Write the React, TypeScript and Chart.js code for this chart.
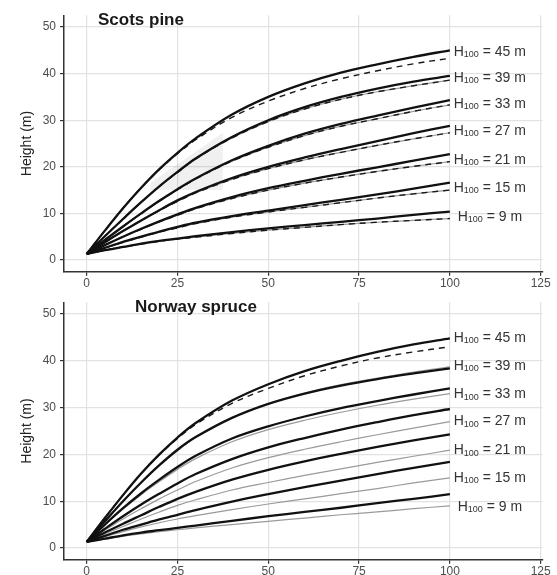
import React, { useEffect, useRef } from "react";
import { Chart, registerables } from "chart.js";

Chart.register(...registerables);

const FONT = '"Liberation Sans", Arial, Helvetica, sans-serif';

// ---- data ----
const ages = [0, 5, 10, 15, 20, 25, 30, 40, 50, 60, 70, 80, 90, 100];
const siteIndices = [45, 39, 33, 27, 21, 15, 9];
const xTicks = [0, 25, 50, 75, 100, 125];
const yTicks = [0, 10, 20, 30, 40, 50];

// Scots pine, black curves (H100 = 45 ... 9)
const pineBlack: number[][] = [
  [1.3, 6.3, 11.1, 15.5, 19.5, 23.0, 26.1, 31.2, 35.0, 37.9, 40.2, 42.0, 43.6, 45.0],
  [1.3, 5.1, 8.8, 12.4, 15.8, 18.9, 21.8, 26.4, 30.0, 32.8, 35.0, 36.8, 38.3, 39.5],
  [1.3, 4.3, 7.2, 10.0, 12.7, 15.2, 17.5, 21.4, 24.5, 27.1, 29.2, 31.0, 32.7, 34.3],
  [1.3, 3.8, 6.2, 8.5, 10.7, 12.8, 14.6, 17.6, 20.0, 22.0, 23.8, 25.5, 27.2, 28.8],
  [1.3, 3.2, 5.0, 6.7, 8.3, 9.8, 11.2, 13.5, 15.4, 17.0, 18.5, 19.9, 21.3, 22.7],
  [1.3, 2.6, 3.9, 5.0, 6.1, 7.1, 8.0, 9.4, 10.6, 11.8, 12.9, 14.1, 15.3, 16.6],
  [1.3, 2.1, 2.8, 3.5, 4.1, 4.6, 5.1, 6.0, 6.8, 7.5, 8.2, 8.9, 9.7, 10.4],
];
// Scots pine, grey curves (H100 = 39 ... 9)
const pineGrey: number[][] = [
  [1.3, 5.1, 8.8, 12.4, 15.8, 18.8, 21.7, 26.2, 29.7, 32.4, 34.5, 36.1, 37.4, 38.6],
  [1.3, 4.3, 7.2, 10.0, 12.6, 15.1, 17.4, 21.2, 24.2, 26.7, 28.7, 30.3, 31.9, 33.3],
  [1.3, 3.8, 6.2, 8.5, 10.6, 12.6, 14.4, 17.3, 19.6, 21.5, 23.1, 24.6, 26.0, 27.3],
  [1.3, 3.2, 5.0, 6.6, 8.2, 9.6, 11.0, 13.2, 15.0, 16.5, 17.8, 19.0, 20.1, 21.1],
  [1.3, 2.6, 3.8, 4.9, 6.0, 6.9, 7.8, 9.2, 10.3, 11.3, 12.3, 13.3, 14.2, 15.0],
  [1.3, 2.1, 2.8, 3.4, 4.0, 4.5, 4.9, 5.7, 6.4, 7.0, 7.6, 8.1, 8.5, 8.9],
];
const pineDashed45 = [1.3, 6.3, 11.1, 15.5, 19.4, 22.8, 25.8, 30.6, 34.1, 36.8, 38.9, 40.6, 42.1, 43.3];

// Norway spruce, black curves (H100 = 45 ... 9)
const spruceBlack: number[][] = [
  [1.3, 6.4, 11.3, 15.9, 20.0, 23.6, 26.7, 31.5, 35.0, 37.8, 40.0, 41.9, 43.5, 44.8],
  [1.3, 5.7, 10.0, 14.0, 17.7, 21.0, 23.7, 27.8, 30.8, 33.0, 34.7, 36.1, 37.3, 38.4],
  [1.3, 5.0, 8.5, 11.7, 14.6, 17.3, 19.7, 23.4, 26.0, 28.1, 29.9, 31.4, 32.8, 34.1],
  [1.3, 4.1, 6.8, 9.3, 11.6, 13.8, 15.8, 19.0, 21.5, 23.5, 25.3, 26.9, 28.4, 29.7],
  [1.3, 3.3, 5.2, 7.0, 8.8, 10.5, 12.0, 14.6, 16.7, 18.5, 20.1, 21.6, 23.0, 24.3],
  [1.3, 2.6, 3.9, 5.0, 6.1, 7.1, 8.1, 9.9, 11.5, 13.0, 14.4, 15.8, 17.1, 18.4],
  [1.3, 2.0, 2.7, 3.3, 3.8, 4.3, 4.8, 5.8, 6.8, 7.7, 8.6, 9.6, 10.5, 11.5],
];
// Norway spruce, grey curves (H100 = 39 ... 9)
const spruceGrey: number[][] = [
  [1.3, 5.7, 10.0, 14.0, 17.6, 20.8, 23.6, 27.8, 30.8, 33.1, 34.9, 36.3, 37.6, 38.7],
  [1.3, 4.9, 8.3, 11.4, 14.2, 16.8, 19.1, 22.7, 25.3, 27.3, 29.0, 30.5, 31.8, 33.0],
  [1.3, 3.8, 6.2, 8.4, 10.5, 12.4, 14.2, 17.1, 19.3, 21.1, 22.7, 24.2, 25.6, 27.0],
  [1.3, 3.0, 4.6, 6.2, 7.7, 9.1, 10.3, 12.4, 14.0, 15.5, 16.9, 18.3, 19.6, 20.9],
  [1.3, 2.4, 3.5, 4.5, 5.4, 6.2, 6.9, 8.2, 9.4, 10.5, 11.6, 12.7, 13.9, 15.0],
  [1.3, 1.9, 2.5, 3.0, 3.5, 3.9, 4.3, 5.0, 5.7, 6.4, 7.1, 7.7, 8.4, 9.0],
];
const spruceDashed45 = [1.3, 6.4, 11.3, 15.9, 19.9, 23.4, 26.4, 30.9, 34.1, 36.8, 38.9, 40.6, 41.9, 43.0];

// label positions (height at which each H100 label sits)
const labelAge = 111;
const pineLabelY = [44.7, 39.1, 33.5, 27.7, 21.5, 15.5, 9.3];
const spruceLabelY = [44.9, 38.9, 32.9, 27.1, 20.9, 15.0, 8.8];

// light grey shaded region in the Scots pine panel
const shadeAges = [17.5, 37.5];
const shadeUpper = [16.5, 27.3];
const shadeLower = [15.0, 15.0];

// ---- helpers ----
const pts = (xs: number[], ys: number[]) => xs.map((x, i) => ({ x, y: ys[i] }));

interface PanelSpec {
  black: number[][];
  grey: number[][];
  dashed: number[][];
  labelY: number[];
  title: string;
  titleDx: number;
  shade: boolean;
  height: number;
  padTop: number;
  axisH: number;
}

function buildChart(canvas: HTMLCanvasElement, spec: PanelSpec) {
  const datasets: any[] = [];
  const common = {
    showLine: true,
    pointRadius: 0,
    pointHoverRadius: 0,
    cubicInterpolationMode: "default",
    tension: 0.35,
    fill: false,
  };
  if (spec.shade) {
    datasets.push({
      ...common,
      data: pts(shadeAges, shadeUpper),
      borderWidth: 0,
      borderColor: "rgba(0,0,0,0)",
      tension: 0,
      order: 100,
    });
    datasets.push({
      ...common,
      data: pts(shadeAges, shadeLower),
      borderWidth: 0,
      borderColor: "rgba(0,0,0,0)",
      tension: 0,
      fill: "-1",
      backgroundColor: "rgba(0,0,0,0.06)",
      order: 100,
    });
  }
  spec.grey.forEach((row) =>
    datasets.push({ ...common, data: pts(ages, row), borderColor: "#9a9a9a", borderWidth: 1.2, order: 3 })
  );
  spec.dashed.forEach((row) =>
    datasets.push({
      ...common,
      data: pts(ages, row),
      borderColor: "#1a1a1a",
      borderWidth: 1.4,
      borderDash: [6, 5],
      order: 2,
    })
  );
  spec.black.forEach((row) =>
    datasets.push({ ...common, data: pts(ages, row), borderColor: "#111111", borderWidth: 2.3, order: 1 })
  );

  const textPlugin = {
    id: "panelText",
    afterDatasetsDraw(chart: any) {
      const { ctx, chartArea, scales } = chart;
      const x = scales.x;
      const y = scales.y;
      ctx.save();
      ctx.textBaseline = "middle";
      ctx.textAlign = "left";
      ctx.fillStyle = "#333333";
      const mainFont = `14px ${FONT}`;
      const subFont = `9px ${FONT}`;
      siteIndices.forEach((h, i) => {
        const cx = x.getPixelForValue(labelAge);
        const cy = y.getPixelForValue(spec.labelY[i]);
        const rest = ` = ${h} m`;
        ctx.font = mainFont;
        const wH = ctx.measureText("H").width;
        const wR = ctx.measureText(rest).width;
        ctx.font = subFont;
        const wS = ctx.measureText("100").width;
        let sx = cx - (wH + wS + wR) / 2;
        ctx.font = mainFont;
        ctx.fillText("H", sx, cy);
        sx += wH;
        ctx.font = subFont;
        ctx.fillText("100", sx, cy + 3);
        sx += wS;
        ctx.font = mainFont;
        ctx.fillText(rest, sx, cy);
      });
      // panel title
      ctx.font = `bold 17px ${FONT}`;
      ctx.fillStyle = "#1a1a1a";
      ctx.fillText(spec.title, chartArea.left + spec.titleDx, chartArea.top + 5);
      // y axis title
      ctx.translate(chartArea.left - 37, (chartArea.top + chartArea.bottom) / 2);
      ctx.rotate(-Math.PI / 2);
      ctx.textAlign = "center";
      ctx.font = `14px ${FONT}`;
      ctx.fillStyle = "#222222";
      ctx.fillText("Height (m)", 0, 0);
      ctx.restore();
    },
  };

  const tickFont = { size: 12, family: FONT };
  const grid = { color: "#e2e2e2", lineWidth: 1.2, tickColor: "#333333", tickLength: 4, tickWidth: 1.2 };
  const border = { display: true, color: "#333333", width: 1.5 };

  return new Chart(canvas, {
    type: "scatter",
    data: { datasets },
    plugins: [textPlugin],
    options: {
      animation: false,
      responsive: false,
      events: [],
      layout: { padding: { top: spec.padTop, right: 14.5, left: 0, bottom: 0 } },
      plugins: { legend: { display: false }, tooltip: { enabled: false }, title: { display: false } },
      scales: {
        x: {
          type: "linear",
          min: -6.25,
          max: 125.5,
          afterBuildTicks: (s: any) => {
            s.ticks = xTicks.map((v) => ({ value: v }));
          },
          afterFit: (s: any) => {
            s.height = spec.axisH;
          },
          ticks: { color: "#4d4d4d", font: tickFont, padding: 1, maxRotation: 0, autoSkip: false },
          grid,
          border,
        },
        y: {
          type: "linear",
          min: -2.5,
          max: 52.5,
          afterBuildTicks: (s: any) => {
            s.ticks = yTicks.map((v) => ({ value: v }));
          },
          afterFit: (s: any) => {
            s.width = 64;
          },
          ticks: { color: "#4d4d4d", font: tickFont, padding: 4, autoSkip: false },
          grid,
          border,
        },
      },
    } as any,
  });
}

const pineSpec: PanelSpec = {
  black: pineBlack,
  grey: pineGrey,
  dashed: [pineDashed45, ...pineGrey],
  labelY: pineLabelY,
  title: "Scots pine",
  titleDx: 34,
  shade: true,
  height: 289,
  padTop: 15.35,
  axisH: 17.35,
};

const spruceSpec: PanelSpec = {
  black: spruceBlack,
  grey: spruceGrey,
  dashed: [spruceDashed45],
  labelY: spruceLabelY,
  title: "Norway spruce",
  titleDx: 71,
  shade: false,
  height: 286,
  padTop: 13.3,
  axisH: 15.3,
};

function Panel({ spec }: { spec: PanelSpec }) {
  const ref = useRef<HTMLCanvasElement | null>(null);
  useEffect(() => {
    if (!ref.current) return;
    const chart = buildChart(ref.current, spec);
    return () => chart.destroy();
  }, [spec]);
  return <canvas ref={ref} width={557} height={spec.height} style={{ display: "block", width: 557, height: spec.height }} />;
}

export default function App() {
  return (
    <div style={{ position: "absolute", left: 0, top: 0, width: 557, height: 575, background: "#ffffff" }}>
      <Panel spec={pineSpec} />
      <Panel spec={spruceSpec} />
    </div>
  );
}
